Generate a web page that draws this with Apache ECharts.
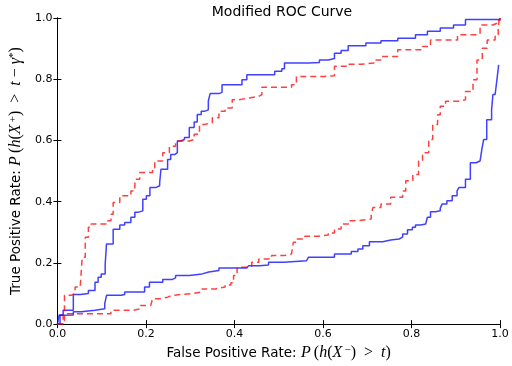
<!DOCTYPE html>
<html>
<head>
<meta charset="utf-8">
<script src="https://cdn.jsdelivr.net/npm/echarts@6/dist/echarts.min.js"></script>
<style>
  html, body { margin: 0; padding: 0; background: #fff; }
  #chart { width: 512px; height: 366px; }
</style>
</head>
<body>
<div id="chart"></div>
<script>
// Four ROC-style step curves: [false positive rate, true positive rate]
const upperBlue = [
  [0, 0], [0.004, 0.03], [0.013, 0.045], [0.036, 0.097], [0.052, 0.10], [0.070, 0.11],
  [0.085, 0.137], [0.092, 0.153], [0.099, 0.164], [0.108, 0.197], [0.111, 0.262],
  [0.126, 0.31], [0.141, 0.324], [0.152, 0.332], [0.166, 0.349], [0.175, 0.365],
  [0.182, 0.37], [0.193, 0.408], [0.201, 0.419], [0.209, 0.446], [0.222, 0.452],
  [0.231, 0.462], [0.234, 0.506], [0.249, 0.538], [0.256, 0.554], [0.265, 0.56],
  [0.271, 0.598], [0.278, 0.603], [0.287, 0.61], [0.298, 0.642], [0.309, 0.66],
  [0.316, 0.685], [0.325, 0.695], [0.332, 0.70], [0.341, 0.728], [0.345, 0.753],
  [0.365, 0.757], [0.372, 0.782], [0.417, 0.798], [0.428, 0.815], [0.491, 0.826],
  [0.507, 0.834], [0.513, 0.853], [0.567, 0.855], [0.592, 0.863], [0.612, 0.868],
  [0.626, 0.885], [0.641, 0.894], [0.657, 0.909], [0.697, 0.918], [0.731, 0.926],
  [0.769, 0.934], [0.809, 0.945], [0.836, 0.957], [0.865, 0.967], [0.895, 0.977],
  [0.922, 0.995], [1, 1]
];

const upperRed = [
  [0, 0], [0.016, 0.094], [0.031, 0.10], [0.040, 0.121], [0.052, 0.132], [0.056, 0.218],
  [0.063, 0.284], [0.070, 0.316], [0.076, 0.327], [0.114, 0.338], [0.121, 0.359],
  [0.126, 0.397], [0.141, 0.419], [0.166, 0.435], [0.175, 0.473], [0.186, 0.495],
  [0.215, 0.511], [0.220, 0.533], [0.238, 0.56], [0.253, 0.581], [0.267, 0.598],
  [0.298, 0.603], [0.309, 0.62], [0.321, 0.652], [0.332, 0.658], [0.350, 0.674],
  [0.365, 0.695], [0.379, 0.706], [0.395, 0.733], [0.410, 0.739], [0.433, 0.744],
  [0.455, 0.75], [0.462, 0.774], [0.529, 0.782], [0.540, 0.809], [0.603, 0.811],
  [0.626, 0.842], [0.657, 0.849], [0.686, 0.853], [0.715, 0.863], [0.731, 0.874],
  [0.769, 0.896], [0.825, 0.907], [0.843, 0.928], [0.904, 0.945], [0.948, 0.948],
  [0.955, 0.977], [0.984, 0.983], [0.993, 0.993], [1, 1]
];

const lowerBlue = [
  [0, 0], [0.006, 0.029], [0.013, 0.03], [0.036, 0.04], [0.054, 0.045], [0.085, 0.05],
  [0.107, 0.067], [0.111, 0.094], [0.144, 0.097], [0.152, 0.105], [0.197, 0.121],
  [0.208, 0.137], [0.238, 0.146], [0.260, 0.151], [0.267, 0.159], [0.298, 0.164],
  [0.327, 0.17], [0.342, 0.175], [0.365, 0.183], [0.428, 0.186], [0.432, 0.191],
  [0.457, 0.193], [0.477, 0.202], [0.511, 0.207], [0.563, 0.21], [0.567, 0.218],
  [0.626, 0.229], [0.664, 0.237], [0.679, 0.245], [0.690, 0.256], [0.705, 0.269],
  [0.735, 0.275], [0.753, 0.278], [0.772, 0.284], [0.780, 0.294], [0.791, 0.308],
  [0.802, 0.316], [0.809, 0.324], [0.821, 0.327], [0.832, 0.33], [0.836, 0.349],
  [0.843, 0.367], [0.854, 0.37], [0.865, 0.378], [0.869, 0.392], [0.880, 0.403],
  [0.892, 0.419], [0.903, 0.435], [0.907, 0.446], [0.922, 0.473], [0.933, 0.527],
  [0.946, 0.533], [0.955, 0.538], [0.959, 0.571], [0.963, 0.603], [0.970, 0.668],
  [0.981, 0.70], [0.984, 0.75], [0.989, 0.755], [0.993, 0.798], [0.997, 0.847]
];

const lowerRed = [
  [0, 0], [0.013, 0.034], [0.121, 0.045], [0.170, 0.05], [0.188, 0.061], [0.211, 0.067],
  [0.215, 0.083], [0.233, 0.088], [0.249, 0.094], [0.260, 0.10], [0.305, 0.105],
  [0.327, 0.115], [0.357, 0.121], [0.379, 0.128], [0.392, 0.135], [0.398, 0.159],
  [0.406, 0.186], [0.424, 0.189], [0.439, 0.202], [0.455, 0.213], [0.484, 0.224],
  [0.513, 0.229], [0.529, 0.235], [0.533, 0.267], [0.540, 0.278], [0.559, 0.287],
  [0.590, 0.291], [0.612, 0.298], [0.626, 0.311], [0.641, 0.327], [0.659, 0.338],
  [0.682, 0.343], [0.709, 0.359], [0.713, 0.381], [0.731, 0.392], [0.753, 0.414],
  [0.780, 0.435], [0.787, 0.468], [0.803, 0.489], [0.816, 0.533], [0.825, 0.56],
  [0.839, 0.603], [0.848, 0.652], [0.859, 0.684], [0.865, 0.712], [0.877, 0.728],
  [0.906, 0.733], [0.922, 0.76], [0.939, 0.798], [0.948, 0.863], [0.960, 0.901],
  [0.971, 0.928], [0.989, 0.945], [0.996, 0.967], [0.998, 0.993], [1, 1]
];

const tickStep = 0.2;
const titleText = 'Modified ROC Curve';

const sans = 'DejaVu Sans';
const serif = 'Liberation Serif';
const mathRich = {
  n: { fontFamily: sans, fontSize: 13.5, color: '#000' },
  m: { fontFamily: serif, fontStyle: 'italic', fontSize: 16, color: '#000' },
  r: { fontFamily: serif, fontSize: 16, color: '#000' },
  s: { fontFamily: serif, fontSize: 11, color: '#000', verticalAlign: 'top', lineHeight: 11 }
};

const tickFmt = v => v.toFixed(1);
const frameLine = { show: true, lineStyle: { color: '#000', width: 1 } };
const innerTick = { show: true, inside: true, length: 4, lineStyle: { color: '#000' } };

const chart = echarts.init(document.getElementById('chart'), null, { renderer: 'canvas' });

function stepSeries(name, data, color, dashed) {
  return {
    name: name,
    type: 'line',
    step: 'end',
    data: data,
    showSymbol: false,
    symbol: 'none',
    animation: false,
    lineStyle: { color: color, width: 1.5, type: dashed ? [6, 4] : 'solid' },
    z: dashed ? 3 : 2
  };
}

chart.setOption({
  animation: false,
  backgroundColor: '#fff',
  title: {
    text: titleText,
    left: 277,
    textAlign: 'center',
    top: 0,
    textStyle: { fontFamily: sans, fontSize: 14, fontWeight: 'normal', color: '#000' }
  },
  grid: { left: 54, right: 12, top: 18, bottom: 40.5, show: false },
  xAxis: [
    {
      type: 'value', min: 0, max: 1, interval: tickStep, position: 'bottom',
      axisLine: frameLine, axisTick: innerTick, splitLine: { show: false },
      axisLabel: { formatter: tickFmt, fontFamily: sans, fontSize: 11, color: '#000', margin: 5 },
      name: '{n|False Positive Rate: }{m|P}{r|\u2009(}{m|h}{r|(}{m|X}{s|\u2009\u2212}{r|)\u2002>\u2002}{m|t}{r|)}',
      nameLocation: 'middle', nameGap: 18,
      nameTextStyle: { rich: mathRich }
    },
    {
      type: 'value', min: 0, max: 1, interval: tickStep, position: 'top',
      axisLine: frameLine, axisTick: innerTick, splitLine: { show: false },
      axisLabel: { show: false }
    }
  ],
  yAxis: [
    {
      type: 'value', min: 0, max: 1, interval: tickStep, position: 'left',
      axisLine: frameLine, axisTick: innerTick, splitLine: { show: false },
      axisLabel: { formatter: tickFmt, fontFamily: sans, fontSize: 11, color: '#000', margin: 5 },
      name: '{n|True Positive Rate: }{m|P}{r|\u2009(}{m|h}{r|(}{m|X}{s|\u2009+}{r|)\u2002>\u2002}{m|t}{r| \u2212 }{m|\u03b3}{s|*}{r|)}',
      nameLocation: 'middle', nameGap: 30, nameRotate: 90,
      nameTextStyle: { rich: mathRich }
    },
    {
      type: 'value', min: 0, max: 1, interval: tickStep, position: 'right',
      axisLine: frameLine, axisTick: innerTick, splitLine: { show: false },
      axisLabel: { show: false }
    }
  ],
  series: [
    stepSeries('upper model', upperBlue, 'rgba(0,0,255,0.75)', false),
    stepSeries('upper baseline', upperRed, 'rgba(255,0,0,0.75)', true),
    stepSeries('lower model', lowerBlue, 'rgba(0,0,255,0.75)', false),
    stepSeries('lower baseline', lowerRed, 'rgba(255,0,0,0.75)', true)
  ]
});
</script>
</body>
</html>
